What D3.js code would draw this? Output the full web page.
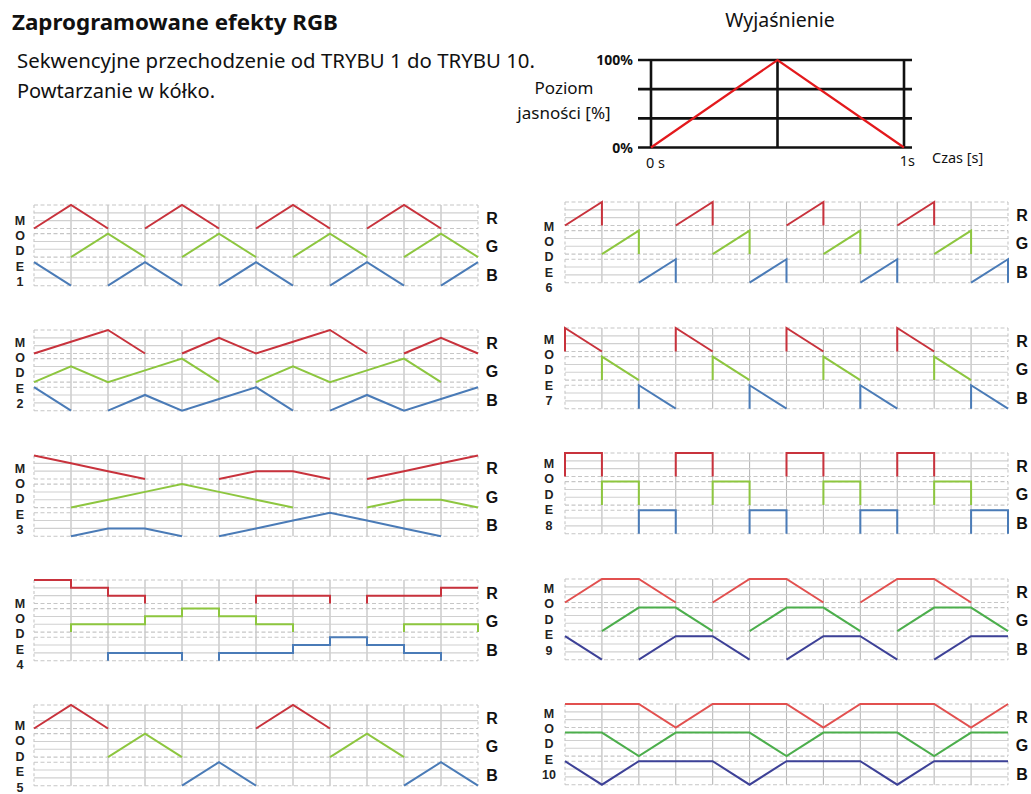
<!DOCTYPE html>
<html><head><meta charset="utf-8">
<script src="https://cdn.jsdelivr.net/npm/d3@7/dist/d3.min.js"></script>
<style>
html,body{margin:0;padding:0;background:#fff;}
svg{display:block;}
</style></head>
<body>
<svg id="c" width="1031" height="794"></svg>
<script>
// ---------------- DATA ----------------
const titleText = "Zaprogramowane efekty RGB";
const subLines = ["Sekwencyjne przechodzenie od TRYBU 1 do TRYBU 10.", "Powtarzanie w kółko."];
const explTitle = "Wyjaśnienie";
const explYLabel = ["Poziom", "jasności [%]"];
const explXLabel = "Czas [s]";
const explYTicks = [{v:100, t:"100%"}, {v:0, t:"0%"}];
const explXTicks = [{v:0, t:"0 s"}, {v:1, t:"1s"}];
const explGridY = [0, 33.3, 66.7, 100];
const explGridX = [0, 0.5, 1];
const explSeries = [[0,0],[0.5,100],[1,0]];

const channels = ["R","G","B"];
const levelGrid = [0, 33.3, 66.7, 100];

// each series: [time step, brightness %]; null = channel off (no line)
const mode1R = [[0,0],[1,100],[2,0],null,[3,0],[4,100],[5,0],null,[6,0],[7,100],[8,0],null,[9,0],[10,100],[11,0]];
const mode1G = [[1,0],[2,100],[3,0],null,[4,0],[5,100],[6,0],null,[7,0],[8,100],[9,0],null,[10,0],[11,100],[12,0]];
const mode1B = [[0,100],[1,0],null,[2,0],[3,100],[4,0],null,[5,0],[6,100],[7,0],null,[8,0],[9,100],[10,0],null,[11,0],[12,100]];

const mode2R = [[0,0],[1,50],[2,100],[3,0],null,[4,0],[5,67],[6,0],[7,50],[8,100],[9,0],null,[10,0],[11,67],[12,0]];
const mode2G = [[0,0],[1,67],[2,0],[3,50],[4,100],[5,0],null,[6,0],[7,67],[8,0],[9,50],[10,100],[11,0]];
const mode2B = [[0,100],[1,0],null,[2,0],[3,67],[4,0],[5,50],[6,100],[7,0],null,[8,0],[9,67],[10,0],[11,50],[12,100]];

const mode3R = [[0,100],[1,67],[2,33],[3,0],null,[5,0],[6,33],[7,33],[8,0],null,[9,0],[10,33],[11,67],[12,100]];
const mode3G = [[1,0],[2,33],[3,67],[4,100],[5,67],[6,33],[7,0],null,[9,0],[10,33],[11,33],[12,0]];
const mode3B = [[1,0],[2,33],[3,33],[4,0],null,[5,0],[6,33],[7,67],[8,100],[9,67],[10,33],[11,0]];

const mode4R = [[0,100],[1,100],[1,67],[2,67],[2,33],[3,33],[3,0],null,[6,0],[6,33],[8,33],[8,0],null,[9,0],[9,33],[11,33],[11,67],[12,67]];
const mode4G = [[1,0],[1,33],[3,33],[3,67],[4,67],[4,100],[5,100],[5,67],[6,67],[6,33],[7,33],[7,0],null,[10,0],[10,33],[12,33],[12,0]];
const mode4B = [[2,0],[2,33],[4,33],[4,0],null,[5,0],[5,33],[7,33],[7,67],[8,67],[8,100],[9,100],[9,67],[10,67],[10,33],[11,33],[11,0]];

const mode5R = [[0,0],[1,100],[2,0],null,[6,0],[7,100],[8,0]];
const mode5G = [[2,0],[3,100],[4,0],null,[8,0],[9,100],[10,0]];
const mode5B = [[4,0],[5,100],[6,0],null,[10,0],[11,100],[12,0]];

const mode6R = [[0,0],[1,100],[1,0],null,[3,0],[4,100],[4,0],null,[6,0],[7,100],[7,0],null,[9,0],[10,100],[10,0]];
const mode6G = [[1,0],[2,100],[2,0],null,[4,0],[5,100],[5,0],null,[7,0],[8,100],[8,0],null,[10,0],[11,100],[11,0]];
const mode6B = [[2,0],[3,100],[3,0],null,[5,0],[6,100],[6,0],null,[8,0],[9,100],[9,0],null,[11,0],[12,100],[12,0]];

const mode7R = [[0,0],[0,100],[1,0],null,[3,0],[3,100],[4,0],null,[6,0],[6,100],[7,0],null,[9,0],[9,100],[10,0]];
const mode7G = [[1,0],[1,100],[2,0],null,[4,0],[4,100],[5,0],null,[7,0],[7,100],[8,0],null,[10,0],[10,100],[11,0]];
const mode7B = [[2,0],[2,100],[3,0],null,[5,0],[5,100],[6,0],null,[8,0],[8,100],[9,0],null,[11,0],[11,100],[12,0]];

const mode8R = [[0,0],[0,100],[1,100],[1,0],null,[3,0],[3,100],[4,100],[4,0],null,[6,0],[6,100],[7,100],[7,0],null,[9,0],[9,100],[10,100],[10,0]];
const mode8G = [[1,0],[1,100],[2,100],[2,0],null,[4,0],[4,100],[5,100],[5,0],null,[7,0],[7,100],[8,100],[8,0],null,[10,0],[10,100],[11,100],[11,0]];
const mode8B = [[2,0],[2,100],[3,100],[3,0],null,[5,0],[5,100],[6,100],[6,0],null,[8,0],[8,100],[9,100],[9,0],null,[11,0],[11,100],[12,100],[12,0]];

const mode9R = [[0,0],[1,100],[2,100],[3,0],null,[4,0],[5,100],[6,100],[7,0],null,[8,0],[9,100],[10,100],[11,0]];
const mode9G = [[1,0],[2,100],[3,100],[4,0],null,[5,0],[6,100],[7,100],[8,0],null,[9,0],[10,100],[11,100],[12,0]];
const mode9B = [[0,100],[1,0],null,[2,0],[3,100],[4,100],[5,0],null,[6,0],[7,100],[8,100],[9,0],null,[10,0],[11,100],[12,100]];

const mode10R = [[0,100],[1,100],[2,100],[3,0],[4,100],[5,100],[6,100],[7,0],[8,100],[9,100],[10,100],[11,0],[12,100]];
const mode10G = [[0,100],[1,100],[2,0],[3,100],[4,100],[5,100],[6,0],[7,100],[8,100],[9,100],[10,0],[11,100],[12,100]];
const mode10B = [[0,100],[1,0],[2,100],[3,100],[4,100],[5,0],[6,100],[7,100],[8,100],[9,0],[10,100],[11,100],[12,100]];

const modeNames = ["1","2","3","4","5","6","7","8","9","10"];
const modeSeries = [
  [mode1R,mode1G,mode1B],[mode2R,mode2G,mode2B],[mode3R,mode3G,mode3B],[mode4R,mode4G,mode4B],[mode5R,mode5G,mode5B],
  [mode6R,mode6G,mode6B],[mode7R,mode7G,mode7B],[mode8R,mode8G,mode8B],[mode9R,mode9G,mode9B],[mode10R,mode10G,mode10B]
];
const timeSteps = 12;

// ---------------- LAYOUT / STYLE ----------------
const colsLeft = {x0:34, x1:478, lblX:20, chX:492};
const colsRight = {x0:565, x1:1008, lblX:549, chX:1022};
const panelTops = [205,330,455.5,580,705, 202,328,453,579,704];
const labelOffsets = [15,12,12.5,23,20.5, 24,11,10.5,9.5,9];
const labelStep = 15.4;
const bandH = 23.5, bandPitch = 28.6;
const palA = ["#c8323c","#8dc63f","#4a7bb7"];
const palB = ["#e2504f","#4cae4c","#3d4197"];

const svg = d3.select("#c");
const FONT = "'Noto Sans', 'Open Sans', sans-serif";
const BFONT = "'Liberation Sans', Arial, sans-serif";

// ---- header texts
svg.append("text").attr("x",12).attr("y",30).attr("font-family",FONT).attr("font-weight","bold")
  .attr("font-size",21).attr("fill","#111").attr("textLength",326).attr("lengthAdjust","spacingAndGlyphs").text(titleText);
const subLens = [518, 198];
subLines.forEach((s,i)=>{
  svg.append("text").attr("x",17).attr("y",68+i*30).attr("font-family",FONT)
    .attr("font-size",19).attr("fill","#111").attr("textLength",subLens[i]).attr("lengthAdjust","spacingAndGlyphs").text(s);
});

// ---- explanation chart
const ex = d3.scaleLinear().domain([0,1]).range([651,904]);
const ey = d3.scaleLinear().domain([0,100]).range([147.5,60]);
const eg = svg.append("g");
eg.append("text").attr("x",780).attr("y",27).attr("text-anchor","middle").attr("font-family",FONT)
  .attr("font-size",19.5).attr("fill","#111").text(explTitle);
eg.selectAll("line.h").data(explGridY).join("line").attr("class","h")
  .attr("x1",638).attr("x2",912).attr("y1",d=>ey(d)).attr("y2",d=>ey(d))
  .attr("stroke","#111").attr("stroke-width",2.6);
eg.selectAll("line.v").data(explGridX).join("line").attr("class","v")
  .attr("x1",d=>ex(d)).attr("x2",d=>ex(d)).attr("y1",ey(100)).attr("y2",ey(0))
  .attr("stroke","#111").attr("stroke-width",2.6);
eg.append("path").attr("d",d3.line().x(d=>ex(d[0])).y(d=>ey(d[1]))(explSeries))
  .attr("fill","none").attr("stroke","#e3191c").attr("stroke-width",2.2);
eg.selectAll("text.yt").data(explYTicks).join("text").attr("class","yt")
  .attr("x",633).attr("y",d=>ey(d.v)+5).attr("text-anchor","end").attr("font-family",FONT)
  .attr("font-weight","bold").attr("font-size",14).attr("fill","#111").text(d=>d.t);
eg.selectAll("text.xt").data(explXTicks).join("text").attr("class","xt")
  .attr("x",(d,i)=> i===0 ? ex(d.v)-5 : ex(d.v)+11).attr("y",(d,i)=> i===0?168:166)
  .attr("text-anchor",(d,i)=> i===0?"start":"end").attr("font-family",FONT)
  .attr("font-size",14.5).attr("fill","#111").text(d=>d.t);
eg.append("text").attr("x",932).attr("y",163).attr("font-family",FONT).attr("font-size",14.5)
  .attr("fill","#111").text(explXLabel);
explYLabel.forEach((s,i)=>{
  eg.append("text").attr("x",564).attr("y",94+i*25).attr("text-anchor","middle").attr("font-family",FONT)
    .attr("font-size",17).attr("fill","#111").text(s);
});

// ---- mode panels
modeSeries.forEach((series,mi)=>{
  const col = mi<5 ? colsLeft : colsRight;
  const pal = mi<8 ? palA : palB;
  const top = panelTops[mi];
  const x = d3.scaleLinear().domain([0,timeSteps]).range([col.x0,col.x1]);
  const g = svg.append("g");
  const panelBottom = top + 2*bandPitch + bandH;
  g.selectAll("line.vg").data(d3.range(1,timeSteps)).join("line").attr("class","vg")
    .attr("x1",d=>x(d)).attr("x2",d=>x(d)).attr("y1",top).attr("y2",panelBottom)
    .attr("stroke","#b8b8b8").attr("stroke-width",1.1);
  series.forEach((s,ci)=>{
    const y = d3.scaleLinear().domain([0,100]).range([top+ci*bandPitch+bandH, top+ci*bandPitch]);
    g.selectAll(null).data(levelGrid).join("line")
      .attr("x1",col.x0).attr("x2",col.x1).attr("y1",d=>y(d)).attr("y2",d=>y(d))
      .attr("stroke",d=> (d===0||d===100) ? "#c6c6c6" : "#d0d0d0")
      .attr("stroke-width",1.1)
      .attr("stroke-dasharray",d=> (d===0||d===100) ? "4,2.5" : null);
    g.selectAll(null).data([0,timeSteps]).join("line")
      .attr("x1",d=>x(d)).attr("x2",d=>x(d)).attr("y1",y(100)).attr("y2",y(0))
      .attr("stroke","#c6c6c6").attr("stroke-width",1.1).attr("stroke-dasharray","3,2.5");
    const line = d3.line().defined(d=>d!==null).x(d=>x(d[0])).y(d=>y(d[1]));
    g.append("path").attr("d",line(s)).attr("fill","none").attr("stroke",pal[ci])
      .attr("stroke-width",2).attr("stroke-linejoin","miter");
    g.append("text").attr("x",col.chX).attr("y",y(50)+7).attr("text-anchor","middle")
      .attr("font-family",BFONT).attr("font-weight","bold").attr("font-size",16).attr("fill","#111")
      .text(channels[ci]);
  });
  const letters = ["M","O","D","E",modeNames[mi]];
  g.selectAll("text.ml").data(letters).join("text").attr("class","ml")
    .attr("x",col.lblX).attr("y",(d,i)=>top+labelOffsets[mi]+i*labelStep+4.5).attr("text-anchor","middle")
    .attr("font-family",BFONT).attr("font-weight","bold").attr("font-size",12.5).attr("fill","#222")
    .text(d=>d);
});
</script>
</body></html>
